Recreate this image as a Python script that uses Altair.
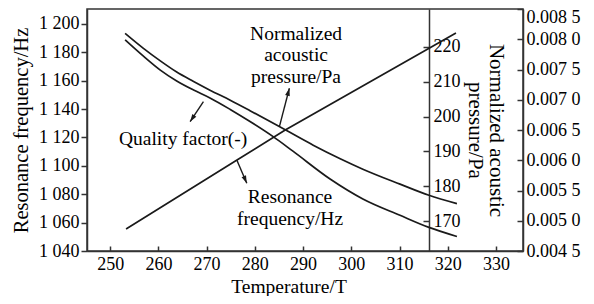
import math
import altair as alt
import pandas as pd

# ---------------- data ----------------
x_ticks = [250, 260, 270, 280, 290, 300, 310, 320, 330]
freq_ticks = [1040, 1060, 1080, 1100, 1120, 1140, 1160, 1180, 1200]
press_ticks = [170, 180, 190, 200, 210, 220]
qual_ticks = [0.0045, 0.005, 0.0055, 0.006, 0.0065, 0.007, 0.0075, 0.008, 0.0085]

# Resonance frequency (left axis) - straight line
freq_T = [253.3, 276.3, 286.3, 321.7]
freq_V = [1055.5, 1104.1, 1125.3, 1193.6]

# Normalized acoustic pressure (middle axis) - upper curve
press_T = [253.1, 256.9, 260.4, 263.8, 267.3, 270.7, 274.9, 279.0, 286.3, 292.1, 297.7, 302.4, 310.1, 316.1, 321.9]
press_V = [223.9, 219.6, 216.0, 212.8, 210.1, 207.6, 204.7, 201.7, 196.2, 191.8, 187.9, 184.9, 180.6, 177.4, 175.0]

# Quality factor (right axis) - lower curve
qual_T = [253.1, 256.9, 260.4, 263.8, 267.3, 270.7, 274.9, 279.0, 283.8, 287.9, 295.6, 302.4, 310.1, 316.1, 321.9]
qual_V = [0.00799, 0.00772, 0.00749, 0.00731, 0.00716, 0.00703, 0.00684, 0.00664, 0.00639, 0.00615,
          0.00569, 0.00536, 0.00509, 0.00489, 0.00474]

# annotations (positions in temperature / left-axis units)
ann_text = ["Normalized\nacoustic\npressure/Pa", "Quality factor(-)", "Resonance\nfrequency/Hz"]
ann_T = [288.55, 265.13, 287.3]
ann_V = [1188.7, 1114.7, 1073.8]

# arrows: start -> end (arrow head at end)
arr_T0 = [269.34, 285.09, 276.26]
arr_V0 = [1145.2, 1127.6, 1104.1]
arr_T1 = [266.58, 287.16, 278.33]
arr_V1 = [1131.1, 1154.7, 1087.7]

# ---------------- layout / style ----------------
W, H = 436, 242
X_DOM = [245.2, 335.6]
F_DOM = [1040, 1210.5]
P_DOM = [161.4, 230.9]
Q_DOM = [0.0045, 0.0085]
FONT = "Liberation Serif"
INK = "#1a1a1a"
AXC = "#333333"

xscale = alt.Scale(domain=X_DOM, nice=False, zero=False)
fscale = alt.Scale(domain=F_DOM, nice=False, zero=False)

x_axis = alt.Axis(
    orient="top", offset=-H, values=x_ticks, tickSize=5, labelPadding=-9,
    labelBaseline="top", labelAlign="center",
    title="Temperature/T", titleX=201.5, titleY=41, titleAlign="center",
    titleBaseline="alphabetic", titleAngle=0, titleFontSize=19.5,
)

freq_axis = alt.Axis(
    orient="left", values=freq_ticks, tickSize=6, labelPadding=2,
    labelAlign="right", labelBaseline="middle",
    labelExpr="replace(format(datum.value, ','), ',', ' ')",
    title="Resonance frequency/Hz", titleAngle=270, titleX=-60, titleY=121,
    titleAlign="center", titleBaseline="alphabetic", titleFontSize=20.5,
)

press_axis = alt.Axis(
    orient="left", offset=-342, values=press_ticks, tickSize=6, labelPadding=-10,
    labelAlign="left", labelBaseline="middle",
    title=["Normalized acoustic", "pressure/Pa"], titleAngle=90, titleX=60, titleY=121,
    titleAlign="center", titleBaseline="alphabetic", titleLineHeight=21, titleFontSize=21,
)

qual_axis = alt.Axis(
    orient="left", offset=-W, values=qual_ticks, tickSize=6, labelPadding=-9,
    labelAlign="left", labelBaseline="middle",
    labelOffset={"condition": {"test": "datum.value > 0.0084", "value": 8}, "value": 0},
    labelExpr="substring(format(datum.value, '.4f'), 0, 5) + ' ' + substring(format(datum.value, '.4f'), 5)",
    title=None,
)

freq_df = pd.DataFrame({"T": freq_T, "v": freq_V})
press_df = pd.DataFrame({"T": press_T, "v": press_V})
qual_df = pd.DataFrame({"T": qual_T, "v": qual_V})
ann_df = pd.DataFrame({"T": ann_T, "v": ann_V, "label": ann_text})
arr_df = pd.DataFrame({"T": arr_T0, "v": arr_V0, "T2": arr_T1, "v2": arr_V1})


def head_angle(t0, v0, t1, v1):
    dx = (t1 - t0) / (X_DOM[1] - X_DOM[0]) * W
    dy = -(v1 - v0) / (F_DOM[1] - F_DOM[0]) * H
    return math.degrees(math.atan2(dx, -dy)) % 360


head_df = pd.DataFrame({
    "T": arr_T1, "v": arr_V1,
    "ang": [head_angle(a, b, c, d) for a, b, c, d in zip(arr_T0, arr_V0, arr_T1, arr_V1)],
})

X = alt.X("T:Q", scale=xscale, axis=x_axis)
YF = alt.Y("v:Q", scale=fscale, axis=freq_axis)

freq_line = alt.Chart(freq_df).mark_line(color=INK, strokeWidth=1.7).encode(x=X, y=YF)

ann = alt.Chart(ann_df).mark_text(
    font=FONT, fontSize=19.5, color="black", align="center", baseline="alphabetic",
    lineBreak="\n", lineHeight=21.5,
).encode(x=X, y=YF, text="label:N")

arrows = alt.Chart(arr_df).mark_rule(color=INK, strokeWidth=1.4).encode(
    x=X, y=YF, x2="T2:Q", y2="v2:Q",
)

heads = alt.Chart(head_df).mark_point(
    shape="M0,0L0.6,1.9L-0.6,1.9Z", filled=True, color=INK, opacity=1, size=64,
).encode(x=X, y=YF, angle=alt.Angle("ang:Q", scale=None))

left_layer = alt.layer(freq_line, ann, arrows, heads)

press_line = alt.Chart(press_df).mark_line(color=INK, strokeWidth=1.7, interpolate="monotone").encode(
    x=X,
    y=alt.Y("v:Q", scale=alt.Scale(domain=P_DOM, nice=False, zero=False), axis=press_axis),
)

qual_line = alt.Chart(qual_df).mark_line(color=INK, strokeWidth=1.7, interpolate="monotone").encode(
    x=X,
    y=alt.Y("v:Q", scale=alt.Scale(domain=Q_DOM, nice=False, zero=False), axis=qual_axis),
)

chart = (
    alt.layer(left_layer, press_line, qual_line)
    .resolve_scale(y="independent")
    .properties(
        width=W, height=H,
        padding={"left": 79, "top": 1, "right": 63, "bottom": 45},
        autosize=alt.AutoSizeParams(type="none"),
        background="white",
    )
    .configure_view(stroke=AXC, strokeWidth=1.5)
    .configure_axis(
        labelFont=FONT, titleFont=FONT, labelFontSize=18, titleFontSize=19,
        titleFontWeight="normal", labelColor="black", titleColor="black",
        domainColor=AXC, tickColor=AXC, domainWidth=1.5, tickWidth=1.5,
        grid=False, labelOverlap=False, labelFlush=False,
    )
)

chart.save("out.html", embed_options={"renderer": "svg", "actions": False})
